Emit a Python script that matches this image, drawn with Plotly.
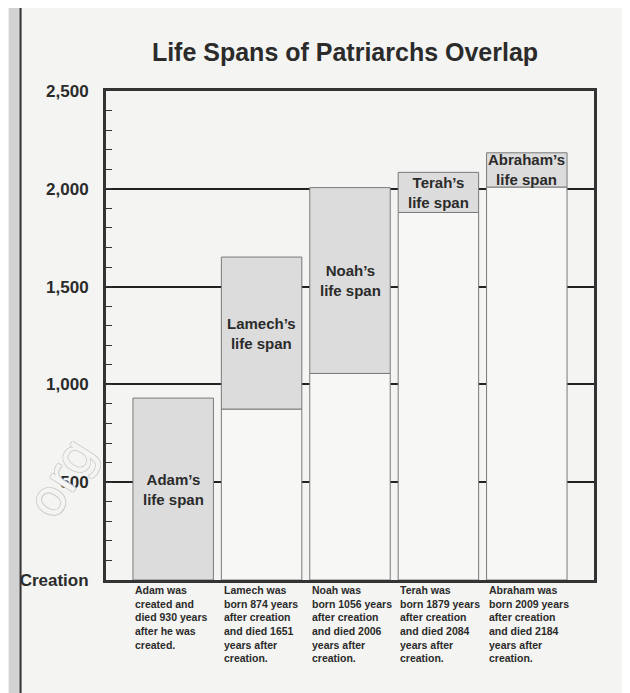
import plotly.graph_objects as go

# ---- data ----
patriarchs = ["Adam", "Lamech", "Noah", "Terah", "Abraham"]
born = [0, 874, 1056, 1879, 2009]
died = [930, 1651, 2006, 2084, 2184]
span_labels = ["Adam’s<br>life span", "Lamech’s<br>life span", "Noah’s<br>life span",
               "Terah’s<br>life span", "Abraham’s<br>life span"]
notes = [
    "Adam was<br>created and<br>died 930 years<br>after he was<br>created.",
    "Lamech was<br>born 874 years<br>after creation<br>and died 1651<br>years after<br>creation.",
    "Noah was<br>born 1056 years<br>after creation<br>and died 2006<br>years after<br>creation.",
    "Terah was<br>born 1879 years<br>after creation<br>and died 2084<br>years after<br>creation.",
    "Abraham was<br>born 2009 years<br>after creation<br>and died 2184<br>years after<br>creation.",
]
tick_vals = [0, 500, 1000, 1500, 2000, 2500]
tick_text = ["Creation", "500", "1,000", "1,500", "2,000", "2,500"]

spans = [d - b for b, d in zip(born, died)]
mids = [(b + d) / 2 for b, d in zip(born, died)]

PAPER = "#f4f4f2"
GRAY = "#dcdcdc"
INK = "#2b2b2b"
SANS = "Liberation Sans, Arial, sans-serif"

W, H = 622, 685
ML, MR, MT, MB = 89, 36, 83, 113
PW, PH = W - ML - MR, H - MT - MB


def px_x(x):
    return (x - ML) / PW


def px_y(y):
    return (H - MB - y) / PH


fig = go.Figure()
fig.add_trace(go.Bar(
    x=patriarchs, y=born, base=[0] * len(born),
    marker=dict(color="#f7f7f5", line=dict(color="#7a7a7a", width=1)),
    hoverinfo="skip", showlegend=False))
fig.add_trace(go.Bar(
    x=patriarchs, y=spans, base=born,
    marker=dict(color=GRAY, line=dict(color="#7a7a7a", width=1)),
    hoverinfo="skip", showlegend=False))

for p, m, lab in zip(patriarchs, mids, span_labels):
    fig.add_annotation(x=p, y=m, text=lab, showarrow=False,
                       font=dict(family=SANS, size=15, color=INK, weight="bold"),
                       align="center")

for p, n in zip(patriarchs, notes):
    fig.add_annotation(x=p, xref="x", y=0, yref="paper", text=n, showarrow=False,
                       xanchor="left", yanchor="top", xshift=-40, yshift=-2,
                       align="left",
                       font=dict(family=SANS, size=10.5, color=INK, weight="bold"))

# watermark
fig.add_annotation(xref="paper", yref="paper", x=px_x(44), y=px_y(470),
                   xanchor="center", yanchor="middle",
                   text="org", showarrow=False, textangle=-58,
                   font=dict(family="DejaVu Sans", size=50, color=PAPER,
                             shadow="1px 0 0 #cdcdcd, -1px 0 0 #cdcdcd, 0 1px 0 #cdcdcd, 0 -1px 0 #cdcdcd"))

# page edge
fig.add_shape(type="rect", xref="paper", yref="paper", x0=px_x(-10), x1=px_x(2),
              y0=-1, y1=2, fillcolor="#d2d2d2", line=dict(width=0), layer="below")
fig.add_shape(type="line", xref="paper", yref="paper", x0=px_x(2), x1=px_x(2),
              y0=-1, y1=2, line=dict(color="#333333", width=2))

fig.update_layout(
    width=W, height=H,
    paper_bgcolor=PAPER, plot_bgcolor=PAPER,
    margin=dict(l=ML, r=MR, t=MT, b=MB),
    barmode="overlay", bargap=0.09,
    title=dict(text="Life Spans of Patriarchs Overlap", x=337 / W, xanchor="center",
               y=1 - 44 / H, yanchor="middle",
               font=dict(family=SANS, size=25, color=INK, weight="bold")),
    xaxis=dict(range=[-0.76, 4.76], showticklabels=False, showgrid=False, zeroline=False,
               showline=True, mirror=True, linecolor="#333333", linewidth=3, ticks=""),
    yaxis=dict(range=[0, 2500], tickvals=tick_vals, ticktext=tick_text,
               tickfont=dict(family=SANS, size=17, color=INK, weight="bold"),
               showgrid=True, gridcolor="#222222", gridwidth=2, zeroline=False,
               showline=True, mirror=True, linecolor="#333333", linewidth=3,
               ticks="inside", ticklen=6, tickcolor="#333333", ticklabelstandoff=11,
               minor=dict(dtick=100, ticks="inside", ticklen=6, tickcolor="#333333",
                          showgrid=False)),
)

fig.write_html("out.html")
